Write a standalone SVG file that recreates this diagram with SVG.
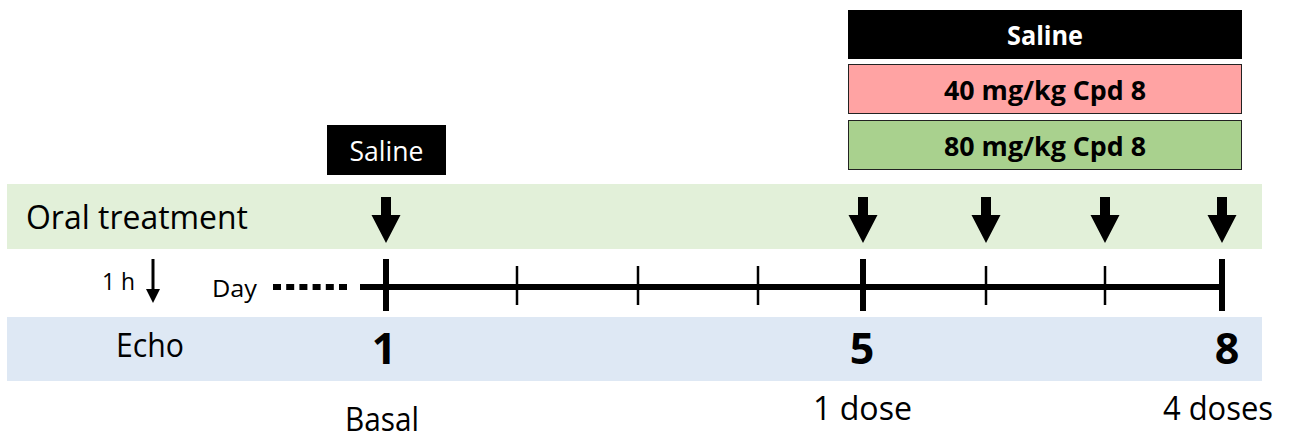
<svg xmlns="http://www.w3.org/2000/svg" width="1290" height="439" viewBox="0 0 1290 439">
<style>
text{font-family:"Open Sans","Noto Sans","Liberation Sans",sans-serif;}
.lbl{font-size:32.5px;fill:#000;}
.num{font-size:43px;font-weight:bold;fill:#000;text-anchor:middle;}
.box{font-size:27px;font-weight:bold;text-anchor:middle;}
.ax{stroke:#000;fill:none;}
</style>
<defs>
<polygon id="bigArrow" points="-5,0 5,0 5,18 14.5,18 0,46 -14.5,18 -5,18" fill="#000"/>
</defs>
<g id="bands">
<rect x="7" y="184" width="1255" height="65" fill="#E2F0D9"/>
<rect x="7" y="317" width="1255" height="64" fill="#DEE8F4"/>
</g>
<g id="saline-top">
<rect x="848" y="10" width="394" height="49" fill="#000"/>
<text class="box" x="1045" y="45" fill="#fff" textLength="76" lengthAdjust="spacingAndGlyphs">Saline</text>
</g>
<g id="dose40">
<rect x="848.5" y="64.5" width="393" height="49" fill="#FFA3A3" stroke="#222" stroke-width="1"/>
<text class="box" x="1045" y="100" fill="#000" textLength="202" lengthAdjust="spacingAndGlyphs">40 mg/kg Cpd 8</text>
</g>
<g id="dose80">
<rect x="848.5" y="120.5" width="393" height="49" fill="#A9D18E" stroke="#222" stroke-width="1"/>
<text class="box" x="1045" y="156" fill="#000" textLength="202" lengthAdjust="spacingAndGlyphs">80 mg/kg Cpd 8</text>
</g>
<g id="saline-basal">
<rect x="327" y="125" width="119" height="50" fill="#000"/>
<text x="386.5" y="161" font-size="27" fill="#fff" text-anchor="middle" textLength="74" lengthAdjust="spacingAndGlyphs">Saline</text>
</g>
<g id="labels">
<text class="lbl" x="26" y="229" textLength="222" lengthAdjust="spacingAndGlyphs">Oral treatment</text>
<text x="102" y="290" font-size="24" textLength="33" lengthAdjust="spacingAndGlyphs">1 h</text>
<text x="212" y="296.5" font-size="24" textLength="45" lengthAdjust="spacingAndGlyphs">Day</text>
<text class="lbl" x="116" y="357" textLength="68" lengthAdjust="spacingAndGlyphs">Echo</text>
<text class="num" x="384" y="364">1</text>
<text class="num" x="862" y="364">5</text>
<text class="num" x="1227" y="364">8</text>
<text class="lbl" x="345" y="431" textLength="74" lengthAdjust="spacingAndGlyphs">Basal</text>
<text class="lbl" x="813" y="420" textLength="99" lengthAdjust="spacingAndGlyphs">1 dose</text>
<text class="lbl" x="1163" y="420" textLength="110" lengthAdjust="spacingAndGlyphs">4 doses</text>
</g>
<g id="connectors">
<line class="ax" x1="273" y1="287" x2="347" y2="287" stroke-width="6" stroke-dasharray="8 5.2"/>
<line class="ax" x1="360" y1="287" x2="1222" y2="287" stroke-width="6"/>
<line class="ax" x1="386" y1="259" x2="386" y2="311" stroke-width="6"/>
<line class="ax" x1="863" y1="259" x2="863" y2="311" stroke-width="6"/>
<line class="ax" x1="1222" y1="259" x2="1222" y2="311" stroke-width="6"/>
<line class="ax" x1="517" y1="266" x2="517" y2="305" stroke-width="2.5"/>
<line class="ax" x1="638" y1="266" x2="638" y2="305" stroke-width="2.5"/>
<line class="ax" x1="758" y1="266" x2="758" y2="305" stroke-width="2.5"/>
<line class="ax" x1="986" y1="266" x2="986" y2="305" stroke-width="2.5"/>
<line class="ax" x1="1105" y1="266" x2="1105" y2="305" stroke-width="2.5"/>
<use href="#bigArrow" x="386" y="197"/>
<use href="#bigArrow" x="863" y="197"/>
<use href="#bigArrow" x="986" y="197"/>
<use href="#bigArrow" x="1105" y="197"/>
<use href="#bigArrow" x="1222" y="197"/>
<line class="ax" x1="153" y1="259" x2="153" y2="291" stroke-width="3"/>
<polygon points="146,289 160,289 153,303" fill="#000"/>
</g>
</svg>
